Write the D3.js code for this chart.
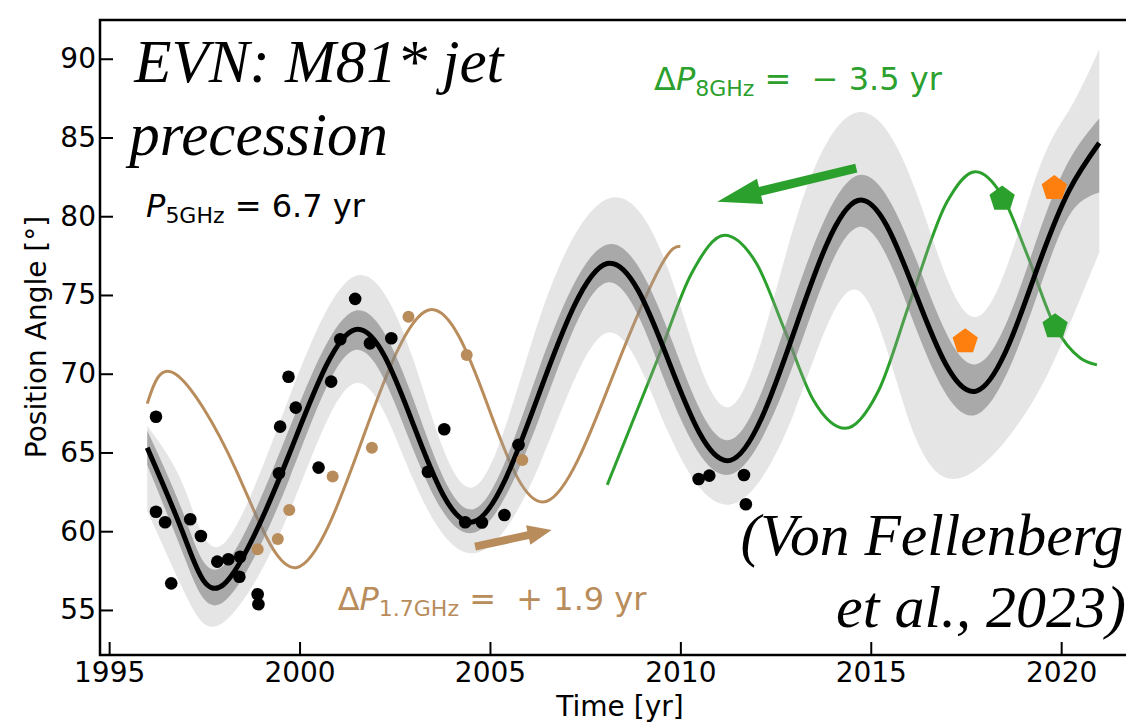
<!DOCTYPE html>
<html>
<head>
<meta charset="utf-8">
<script src="https://cdn.jsdelivr.net/npm/d3@7"></script>
<style>
  body { margin: 0; background: #fff; }
  svg { display: block; }
  text { white-space: pre; }
</style>
</head>
<body>
<script>
// 5 GHz fit (black line) and its two bands
const fitYears = [1996.0, 1997.0, 1998.0, 1999.73, 2001.46, 2003.0, 2004.57, 2006.3, 2008.08, 2009.7, 2011.31, 2013.0, 2014.66, 2016.2, 2017.77, 2019.27, 2020.2, 2021.0]
const fitPA    = [65.3, 59.5, 56.6, 64.9, 72.8, 66.7, 60.6, 68.8, 77.0, 70.75, 64.5, 72.75, 81.0, 74.95, 68.9, 76.0, 81.6, 84.65]
const darkLo   = [64.2, 58.2, 55.5, 63.3, 71.5, 65.1, 59.9, 67.2, 75.8, 68.9, 63.6, 70.8, 79.3, 72.8, 67.4, 74.3, 80.0, 81.5]
const darkHi   = [66.4, 60.8, 57.8, 66.5, 74.0, 68.3, 61.4, 70.4, 78.2, 72.6, 65.8, 74.8, 82.6, 77.2, 70.6, 77.9, 83.5, 86.2]
const lightLo  = [61.3, 56.0, 54.2, 61.2, 69.4, 63.2, 58.6, 64.2, 72.6, 66.2, 61.7, 67.6, 75.3, 65.8, 63.9, 68.3, 73.0, 77.7]
const lightHi  = [66.7, 62.6, 59.2, 68.5, 76.2, 70.8, 62.8, 73.5, 81.1, 76.5, 67.9, 79.5, 86.6, 81.5, 73.6, 82.0, 86.7, 90.6]

// 5 GHz measurements (black dots)
const obs5Year = [1996.23, 1996.23, 1996.47, 1996.63, 1997.13, 1997.41, 1997.84, 1998.13, 1998.44, 1998.42, 1998.90, 1998.92,
                  1999.46, 1999.49, 1999.71, 1999.90, 2000.50, 2000.83, 2001.07, 2001.46, 2001.85, 2002.41,
                  2003.37, 2003.80, 2004.35, 2004.79, 2005.38, 2005.75, 2010.48, 2010.76, 2011.67, 2011.72]
const obs5PA   = [67.27, 61.24, 60.57, 56.69, 60.76, 59.70, 58.07, 58.22, 58.38, 57.11, 56.0, 55.36,
                  63.68, 66.64, 69.81, 67.85, 64.04, 69.50, 72.19, 74.75, 71.93, 72.25,
                  63.78, 66.47, 60.57, 60.55, 61.03, 65.48, 63.32, 63.53, 63.57, 61.71]

// 1.7 GHz curve and points (brown)
const curve17Year = [1996.0, 1996.73, 1998.33, 1999.93, 2001.66, 2003.39, 2004.94, 2006.49, 2008.25, 2009.5, 2010.0]
const curve17PA   = [68.1, 70.0, 63.9, 57.7, 65.9, 74.05, 68.0, 61.9, 70.0, 76.9, 78.1]
const obs17Year = [1998.90, 1999.43, 1999.73, 2000.87, 2001.90, 2002.86, 2004.39, 2005.85]
const obs17PA   = [58.85, 59.51, 61.35, 63.47, 65.30, 73.62, 71.19, 64.52]

// 8 GHz curve and points (green), other points (orange)
const curve8Year = [2008.08, 2009.4, 2010.3, 2011.16, 2012.0, 2012.75, 2013.5, 2014.33, 2015.2, 2016.05, 2017.0, 2017.75, 2018.45, 2019.1, 2019.84, 2020.5, 2020.94]
const curve8PA   = [62.94, 70.9, 76.4, 78.8, 77.0, 72.7, 68.3, 66.53, 68.9, 74.7, 80.9, 82.83, 81.3, 77.6, 73.0, 71.0, 70.56]
const obs8Year = [2018.45, 2019.84]
const obs8PA   = [81.1, 73.0]
const obsOrYear = [2017.48, 2019.82]
const obsOrPA   = [72.04, 81.77]

const xTicks = [1995, 2000, 2005, 2010, 2015, 2020]
const yTicks = [55, 60, 65, 70, 75, 80, 85, 90]

const brown = "#b98c5c", green = "#2ca02c", orange = "#ff7f0e"

const svg = d3.select("body").append("svg")
    .attr("width", 1126)
    .attr("height", 725)

const x = d3.scaleLinear().domain([1994.76, 2022.07]).range([100, 1140])
const y = d3.scaleLinear().domain([52.14, 92.46]).range([655, 20])

// brown and green models go under the grey bands
const line = d3.line().x(d => x(d[0])).y(d => y(d[1])).curve(d3.curveNatural)
const line8 = d3.line().x(d => x(d[0])).y(d => y(d[1])).curve(d3.curveMonotoneX)

svg.append("path")
    .attr("d", line(d3.zip(curve17Year, curve17PA)))
    .attr("fill", "none").attr("stroke", brown).attr("stroke-width", 3)
svg.append("path")
    .attr("d", line8(d3.zip(curve8Year, curve8PA)))
    .attr("fill", "none").attr("stroke", green).attr("stroke-width", 3)

const band = (lo, hi) => d3.area()
    .x(i => x(fitYears[i]))
    .y0(i => y(lo[i]))
    .y1(i => y(hi[i]))
    .curve(d3.curveNatural)(d3.range(fitYears.length))

svg.append("path").attr("d", band(lightLo, lightHi))
    .attr("fill", "rgb(160,160,160)").attr("fill-opacity", 0.28)
svg.append("path").attr("d", band(darkLo, darkHi))
    .attr("fill", "rgb(128,128,128)").attr("fill-opacity", 0.59)

svg.append("path")
    .attr("d", line(d3.zip(fitYears, fitPA)))
    .attr("fill", "none").attr("stroke", "#000").attr("stroke-width", 5)

// dots
svg.append("g").selectAll("circle")
    .data(d3.zip(obs5Year, obs5PA)).enter()
    .append("circle")
    .attr("cx", d => x(d[0])).attr("cy", d => y(d[1])).attr("r", 6.3)
    .attr("fill", "#000")
svg.append("g").selectAll("circle")
    .data(d3.zip(obs17Year, obs17PA)).enter()
    .append("circle")
    .attr("cx", d => x(d[0])).attr("cy", d => y(d[1])).attr("r", 6)
    .attr("fill", brown)

// pentagon markers
const pentagon = {
    draw(ctx, size) {
        const r = Math.sqrt(size / 2.378)
        for (let i = 0; i < 5; i++) {
            const a = -Math.PI / 2 + i * 2 * Math.PI / 5
            if (i === 0) ctx.moveTo(r * Math.cos(a), r * Math.sin(a))
            else ctx.lineTo(r * Math.cos(a), r * Math.sin(a))
        }
        ctx.closePath()
    }
}
const pent = d3.symbol().type(pentagon).size(420)
svg.append("g").selectAll("path")
    .data(d3.zip(obs8Year, obs8PA)).enter()
    .append("path")
    .attr("d", pent)
    .attr("transform", d => `translate(${x(d[0])},${y(d[1])})`)
    .attr("fill", green)
svg.append("g").selectAll("path")
    .data(d3.zip(obsOrYear, obsOrPA)).enter()
    .append("path")
    .attr("d", pent)
    .attr("transform", d => `translate(${x(d[0])},${y(d[1])})`)
    .attr("fill", orange)

// arrows, tail and tip in data coordinates
function arrow(t0, v0, t1, v1, shaft, headW, headL, color) {
    const x0 = x(t0), y0 = y(v0), x1 = x(t1), y1 = y(v1)
    const len = Math.hypot(x1 - x0, y1 - y0)
    const ux = (x1 - x0) / len, uy = (y1 - y0) / len
    const nx = -uy, ny = ux
    const bx = x1 - ux * headL, by = y1 - uy * headL
    const p = d3.path()
    p.moveTo(x0 + nx * shaft / 2, y0 + ny * shaft / 2)
    p.lineTo(bx + nx * shaft / 2, by + ny * shaft / 2)
    p.lineTo(bx + nx * headW / 2, by + ny * headW / 2)
    p.lineTo(x1, y1)
    p.lineTo(bx - nx * headW / 2, by - ny * headW / 2)
    p.lineTo(bx - nx * shaft / 2, by - ny * shaft / 2)
    p.lineTo(x0 - nx * shaft / 2, y0 - ny * shaft / 2)
    p.closePath()
    svg.append("path").attr("d", p.toString()).attr("fill", color)
}
arrow(2014.62, 83.06, 2010.97, 80.92, 9, 26, 44, green)
arrow(2004.61, 59.02, 2006.62, 60.08, 8, 20, 24, brown)

// axes
const gx = svg.append("g")
    .attr("transform", "translate(0,655)")
    .call(d3.axisBottom(x).tickValues(xTicks).tickFormat(d3.format("d"))
        .tickSizeInner(-13).tickSizeOuter(0).tickPadding(7))
const gy = svg.append("g")
    .attr("transform", "translate(100,0)")
    .call(d3.axisLeft(y).tickValues(yTicks)
        .tickSizeInner(-13).tickSizeOuter(0).tickPadding(4))
for (const g of [gx, gy]) {
    g.select(".domain").remove()
    g.selectAll("line").attr("stroke", "#000").attr("stroke-width", 2)
    g.selectAll("text").attr("fill", "#000")
        .style("font-family", "DejaVu Sans").style("font-size", "28px")
}

svg.append("rect")
    .attr("x", 100).attr("y", 20).attr("width", 1040).attr("height", 635)
    .attr("fill", "none").attr("stroke", "#000").attr("stroke-width", 2.5)

svg.append("text")
    .attr("x", 620).attr("y", 716)
    .attr("text-anchor", "middle")
    .style("font-family", "DejaVu Sans").style("font-size", "28px")
    .text("Time [yr]")
svg.append("text")
    .attr("transform", "translate(46,337) rotate(-90)")
    .attr("text-anchor", "middle")
    .style("font-family", "DejaVu Sans").style("font-size", "28px")
    .text("Position Angle [°]")

// annotations
const serif = (t, v, s, size) => svg.append("text")
    .attr("x", x(t)).attr("y", y(v))
    .style("font-family", "Liberation Serif").style("font-style", "italic")
    .style("font-size", size + "px").attr("fill", "#000")
    .text(s)
serif(1995.66, 88.52, "EVN: M81* jet", 61)
serif(1995.53, 83.89, "precession", 61)
serif(2011.58, 58.49, "(Von Fellenberg", 59.5)
serif(2014.09, 53.92, "et al., 2023)", 60)

function mathLabel(t, v, delta, sub, rest, color) {
    const txt = svg.append("text")
        .attr("x", x(t)).attr("y", y(v))
        .style("font-family", "DejaVu Sans").style("font-size", "32px")
        .attr("fill", color)
    if (delta) txt.append("tspan").text("Δ")
    txt.append("tspan").style("font-style", "italic").text("P")
    txt.append("tspan").attr("dy", 6).style("font-size", "22px").text(sub)
    txt.append("tspan").attr("dy", -6).text(rest)
}
mathLabel(1995.97, 79.95, false, "5GHz", " = 6.7 yr", "#000")
mathLabel(2009.31, 88.02, true, "8GHz", " =  − 3.5 yr", green)
mathLabel(2001.0, 55.0, true, "1.7GHz", " =  + 1.9 yr", brown)
</script>
</body>
</html>
